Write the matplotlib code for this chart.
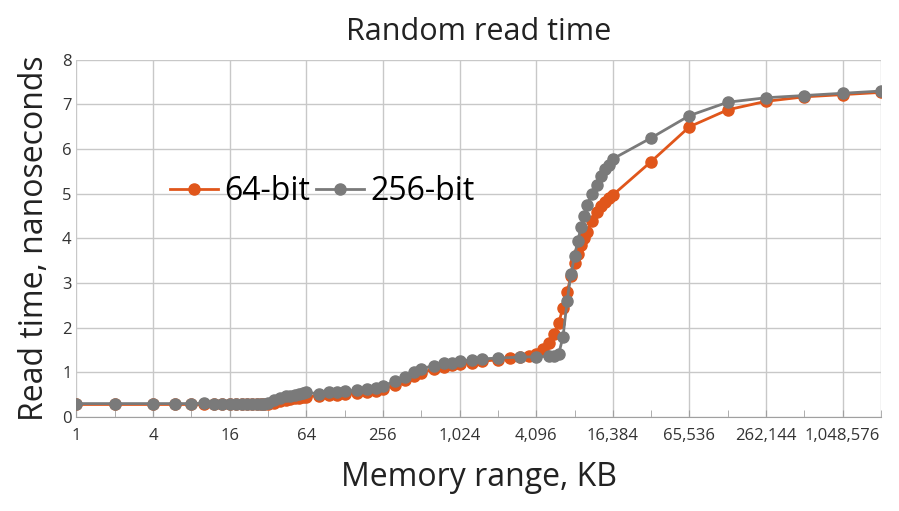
import matplotlib
matplotlib.use("Agg")
import matplotlib.pyplot as plt
from matplotlib.ticker import FixedLocator, FuncFormatter, NullFormatter

plt.rcParams["font.family"] = ["Open Sans", "DejaVu Sans"]

# memory range in KB
sizes_256 = [1, 2, 4, 6, 8, 10, 12, 14, 16, 18, 20, 22, 24, 26, 28, 30, 32, 36, 40, 44, 48, 52, 56, 60, 64,
             80, 96, 112, 128, 160, 192, 224, 256, 320, 384, 448, 512, 640, 768, 896, 1024, 1280, 1536, 2048,
             3072, 4096, 5120, 5632, 6144, 6656, 7168, 7680, 8192, 8704, 9216, 9728, 10240, 11264, 12288,
             13312, 14336, 15360, 16384, 32768, 65536, 131072, 262144, 524288, 1048576, 2097152]
time_256 = [0.30, 0.30, 0.30, 0.30, 0.30, 0.31, 0.30, 0.30, 0.30, 0.30, 0.30, 0.30, 0.30, 0.30, 0.30, 0.30, 0.32,
            0.38, 0.42, 0.46, 0.48, 0.50, 0.52, 0.53, 0.55,
            0.52, 0.55, 0.56, 0.58, 0.60, 0.63, 0.66, 0.70, 0.80, 0.90, 1.00, 1.08, 1.15, 1.20, 1.22, 1.25,
            1.28, 1.30, 1.32, 1.34, 1.35, 1.36, 1.37, 1.40, 1.80, 2.60, 3.20, 3.60, 3.95, 4.25, 4.50, 4.75,
            5.00, 5.20, 5.40, 5.55, 5.65, 5.78, 6.25, 6.75, 7.05, 7.15, 7.20, 7.25, 7.30]

sizes_64 = [1, 2, 4, 6, 8, 10, 12, 14, 16, 18, 20, 22, 24, 26, 28, 30, 32, 36, 40, 44, 48, 52, 56, 60, 64,
            80, 96, 112, 128, 160, 192, 224, 256, 320, 384, 448, 512, 640, 768, 896, 1024, 1280, 1536, 2048,
            2560, 3072, 3584, 4096, 4608, 5120, 5632, 6144, 6656, 7168, 7680, 8192, 8704, 9216, 9728, 10240,
            11264, 12288, 13312, 14336, 15360, 16384, 32768, 65536, 131072, 262144, 524288, 1048576, 2097152]
time_64 = [0.28, 0.28, 0.28, 0.28, 0.28, 0.28, 0.28, 0.28, 0.28, 0.28, 0.28, 0.28, 0.28, 0.28, 0.28, 0.28, 0.29,
           0.32, 0.35, 0.38, 0.40, 0.42, 0.43, 0.44, 0.45,
           0.48, 0.49, 0.50, 0.52, 0.54, 0.57, 0.59, 0.62, 0.72, 0.82, 0.92, 0.98, 1.08, 1.13, 1.16, 1.18,
           1.22, 1.25, 1.28, 1.31, 1.34, 1.37, 1.42, 1.52, 1.65, 1.85, 2.10, 2.45, 2.80, 3.15, 3.45, 3.65,
           3.85, 4.00, 4.15, 4.40, 4.60, 4.72, 4.82, 4.90, 4.97, 5.72, 6.50, 6.88, 7.07, 7.17, 7.22, 7.27]

orange = "#e0561b"
gray = "#7a7a7a"

fig = plt.figure(figsize=(8.99, 5.11), dpi=100)
ax = fig.add_axes([0.085, 0.184, 0.895, 0.699])

ax.plot(sizes_64, time_64, color=orange, lw=2, marker="o", ms=8, label="64-bit", zorder=3)
ax.plot(sizes_256, time_256, color=gray, lw=2, marker="o", ms=8, label="256-bit", zorder=4)

ax.set_xscale("log", base=2)
ax.set_xlim(1, 2 ** 21)
ax.set_ylim(0, 8)
major = [4 ** k for k in range(11)]
ax.xaxis.set_major_locator(FixedLocator(major))
ax.xaxis.set_minor_locator(FixedLocator([2 ** k for k in range(1, 22, 2)]))
ax.xaxis.set_major_formatter(FuncFormatter(lambda v, p: f"{int(round(v)):,}"))
ax.xaxis.set_minor_formatter(NullFormatter())
ax.set_yticks(range(9))
ax.grid(True, which="major", color="#c8c8c8", lw=1)
ax.axvline(2 ** 21, color="#c8c8c8", lw=1)
ax.tick_params(axis="x", which="both", direction="in", length=5, color="#a0a0a0", labelsize=12,
               colors="#333333", pad=8)
ax.tick_params(axis="y", length=0, labelsize=12, colors="#333333")
for s in ["top", "right", "left"]:
    ax.spines[s].set_visible(False)
ax.spines["bottom"].set_color("#a0a0a0")

ax.set_title("Random read time", fontsize=22, color="#222222", pad=14)
ax.set_xlabel("Memory range, KB", fontsize=23, color="#222222", labelpad=12)
ax.set_ylabel("Read time, nanoseconds", fontsize=23, color="#222222", labelpad=8)
ax.legend(loc="center left", bbox_to_anchor=(0.1, 0.63), ncol=2, frameon=False, fontsize=23,
          handlelength=1.5, handletextpad=0.2, columnspacing=0.2, borderaxespad=0)

fig.savefig("out.png", dpi=100)
